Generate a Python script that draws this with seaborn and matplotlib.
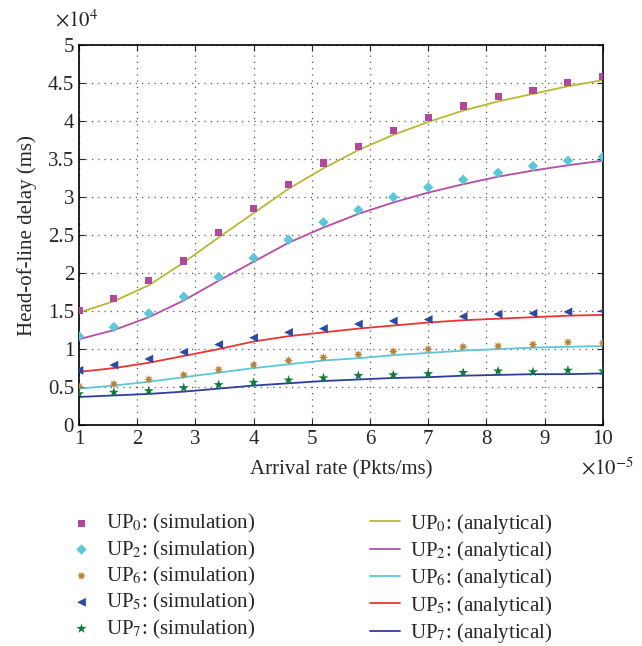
import numpy as np
import pandas as pd
import matplotlib
matplotlib.use("Agg")
import matplotlib.pyplot as plt
import seaborn as sns
from matplotlib.ticker import FuncFormatter, MultipleLocator

# arrival rate (x 1e-5 Pkts/ms)
rate = [1.0, 1.6, 2.2, 2.8, 3.4, 4.0, 4.6, 5.2, 5.8, 6.4, 7.0, 7.6, 8.2, 8.8, 9.4, 10.0]

# head-of-line delay (x 1e4 ms), simulation
sim_up0 = [1.51, 1.67, 1.90, 2.16, 2.53, 2.85, 3.17, 3.45, 3.67, 3.88, 4.05, 4.20, 4.32, 4.41, 4.51, 4.59]
sim_up2 = [1.17, 1.29, 1.47, 1.69, 1.95, 2.20, 2.44, 2.67, 2.83, 3.00, 3.13, 3.23, 3.32, 3.41, 3.48, 3.53]
sim_up6 = [0.51, 0.54, 0.60, 0.66, 0.73, 0.79, 0.85, 0.89, 0.93, 0.97, 1.00, 1.03, 1.04, 1.06, 1.09, 1.08]
sim_up5 = [0.72, 0.79, 0.87, 0.96, 1.06, 1.15, 1.22, 1.27, 1.33, 1.37, 1.39, 1.43, 1.46, 1.47, 1.49, 1.50]
sim_up7 = [0.41, 0.43, 0.45, 0.49, 0.53, 0.56, 0.59, 0.62, 0.65, 0.66, 0.675, 0.69, 0.71, 0.70, 0.72, 0.71]

# analytical
ana_up0 = [1.48, 1.63, 1.84, 2.14, 2.47, 2.79, 3.11, 3.38, 3.62, 3.82, 3.99, 4.14, 4.26, 4.36, 4.46, 4.54]
ana_up2 = [1.13, 1.25, 1.42, 1.64, 1.90, 2.15, 2.40, 2.60, 2.78, 2.93, 3.06, 3.17, 3.27, 3.35, 3.42, 3.48]
ana_up6 = [0.48, 0.52, 0.57, 0.63, 0.69, 0.75, 0.80, 0.85, 0.88, 0.92, 0.95, 0.98, 1.00, 1.02, 1.03, 1.04]
ana_up5 = [0.70, 0.75, 0.82, 0.91, 1.00, 1.10, 1.17, 1.22, 1.27, 1.31, 1.35, 1.38, 1.40, 1.42, 1.44, 1.45]
ana_up7 = [0.37, 0.39, 0.41, 0.44, 0.48, 0.52, 0.55, 0.58, 0.60, 0.62, 0.63, 0.65, 0.66, 0.67, 0.67, 0.68]

sns.set_style("ticks")
plt.rcParams['font.family'] = ['Liberation Serif', 'DejaVu Serif']
plt.rcParams['mathtext.fontset'] = 'stix'
plt.rcParams['font.size'] = 15

fig = plt.figure(figsize=(6.42, 6.46), dpi=100)
ax = fig.add_axes([0.123, 0.342, 0.816, 0.588])

sims = [
    ('UP$_0$: (simulation)', sim_up0, 's', '#b3479c', 26),
    ('UP$_2$: (simulation)', sim_up2, 'D', '#5cc7d8', 28),
    ('UP$_6$: (simulation)', sim_up6, (8, 1, 0), '#b8843c', 42),
    ('UP$_5$: (simulation)', sim_up5, '<', '#2b4ba3', 40),
    ('UP$_7$: (simulation)', sim_up7, '*', '#0f7a3c', 58),
]
anas = [
    ('UP$_0$: (analytical)', ana_up0, '#b9b734'),
    ('UP$_2$: (analytical)', ana_up2, '#b64ca8'),
    ('UP$_6$: (analytical)', ana_up6, '#5ac8d8'),
    ('UP$_5$: (analytical)', ana_up5, '#ee3333'),
    ('UP$_7$: (analytical)', ana_up7, '#2c3f9d'),
]

for lab, vals, mk, col, sz in sims:
    df = pd.DataFrame({'rate': rate, 'delay': vals})
    sns.scatterplot(data=df, x='rate', y='delay', ax=ax, marker=mk, color=col,
                    s=sz, edgecolor='none', label=lab, zorder=3)

for lab, vals, col in anas:
    df = pd.DataFrame({'rate': rate, 'delay': vals})
    sns.lineplot(data=df, x='rate', y='delay', ax=ax, color=col, lw=1.3,
                 label=lab, zorder=2)

ax.set_xlim(1, 10)
ax.set_ylim(0, 5)
ax.xaxis.set_major_locator(MultipleLocator(1))
ax.yaxis.set_major_locator(MultipleLocator(0.5))
ax.xaxis.set_major_formatter(FuncFormatter(lambda v, p: '%g' % v))
ax.yaxis.set_major_formatter(FuncFormatter(lambda v, p: '%g' % v))

ax.text(-0.045, 1.035, r'$\times 10^4$', transform=ax.transAxes, fontsize=15,
        ha='left', va='bottom')
ax.text(1.06, -0.085, r'$\times 10^{-5}$', transform=ax.transAxes, fontsize=15,
        ha='right', va='top')

ax.grid(True, linestyle=(0, (1, 4)), color='#555555', lw=0.9)
ax.tick_params(direction='in', top=True, right=True, length=4, labelsize=15)
for sp in ax.spines.values():
    sp.set_linewidth(1.2)
    sp.set_color('black')

ax.set_xlabel('Arrival rate (Pkts/ms)', fontsize=15, labelpad=8)
ax.set_ylabel('Head-of-line delay (ms)', fontsize=15, labelpad=8)

handles, labels = ax.get_legend_handles_labels()
ax.get_legend().remove()
fig.legend(handles, labels, ncol=2, loc='upper left', bbox_to_anchor=(0.075, 0.237),
           frameon=False, fontsize=15, labelspacing=0.16, handlelength=1.4,
           handletextpad=0.5, columnspacing=5.5, markerscale=1.0)

fig.savefig('out.png', dpi=100)
